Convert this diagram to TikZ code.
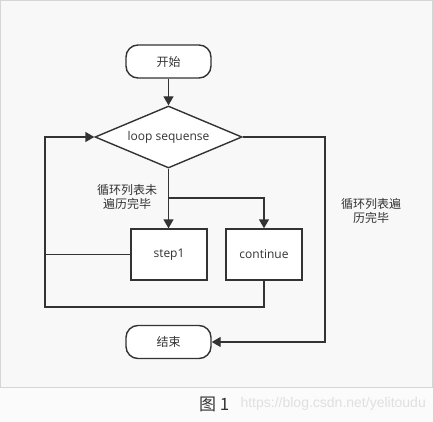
\documentclass[tikz,border=0pt]{standalone}
\usepackage{fontspec}
\setmainfont{Open Sans}
\newfontfamily\cjk{Noto Sans CJK SC}
\newfontfamily\webfont{Liberation Sans}
\usetikzlibrary{shapes.geometric,arrows.meta}

\definecolor{linegray}{HTML}{333333}
\definecolor{panelgray}{HTML}{F8F8F8}
\definecolor{panelline}{HTML}{D6D6D6}

\tikzset{
    terminal/.style={draw=linegray, fill=white, line width=1.4pt, rounded corners=12pt,
        minimum width=85pt, minimum height=33pt, inner sep=0pt, text=linegray},
    decision/.style={draw=linegray, fill=white, line width=1.4pt, diamond, aspect=2.37,
        minimum width=147pt, minimum height=62pt, inner sep=0pt, text=linegray},
    process/.style={draw=linegray, fill=white, line width=1.4pt,
        minimum width=76pt, minimum height=51pt, inner sep=0pt, text=linegray},
    flow/.style={draw=linegray, line width=1.4pt},
    arrow/.style={flow, -{Triangle[length=9pt, width=10pt]}},
    note/.style={text=linegray, align=center, inner sep=0pt, font=\cjk\fontsize{12}{14}\selectfont}
}

\begin{document}
\begin{tikzpicture}[x=1pt, y=1pt, font=\fontsize{12}{14}\selectfont]
    \useasboundingbox (0,0) rectangle (433,-422);
    % background panel
    \fill [white!50!panelgray] (0,0) rectangle (433,-422);
    \filldraw [fill=panelgray, draw=panelline, line width=0.8pt] (0.5,-0.5) rectangle (432.5,-387);
    % nodes
    \node [terminal] (start) at (168.5,-61.5) {\cjk 开始};
    \node [decision] (loop) at (168.5,-137) {loop sequense};
    \node [process] (step) at (169,-254.5) {step1};
    \node [process] (cont) at (264,-254.5) {continue};
    \node [terminal] (stop) at (168.5,-342) {\cjk 结束};
    \coordinate (split) at (168.5,-198);
    \coordinate (backx) at (45,-254.5);
    \coordinate (backy) at (45,-137);
    \coordinate (contlow) at (264,-307);
    \coordinate (leftlow) at (45,-307);
    \coordinate (outtop) at (325,-137);
    \coordinate (outlow) at (325,-342);
    % connectors
    \draw [arrow] (start) -- (loop);
    \draw [flow] (loop.south) -- (split);
    \draw [arrow] (split) -- (split |- step.north);
    \draw [arrow] (split) -| (cont.north);
    \draw [arrow] (step.west) -- (backx) -- (backy) -- (loop.west);
    \draw [flow] (cont.south) -- (contlow) -- (leftlow) -- (backx);
    \draw [arrow] (loop.east) -- (outtop) -- (outlow) -- (stop.east);
    % labels
    \node [note] (inlabel) at (127,-197) {循环列表未\\遍历完毕};
    \node [note] (outlabel) at (371,-211) {循环列表遍\\历完毕};
    % caption
    \node [text=linegray, inner sep=0pt, anchor=west, font=\cjk\fontsize{17}{20}\selectfont] (caption) at (199,-404) {图 1};
    \node [text=black!12, inner sep=0pt, anchor=east, font=\webfont\fontsize{14}{16}\selectfont] (mark) at (426,-404) {https://blog.csdn.net/yelitoudu};
\end{tikzpicture}
\end{document}
